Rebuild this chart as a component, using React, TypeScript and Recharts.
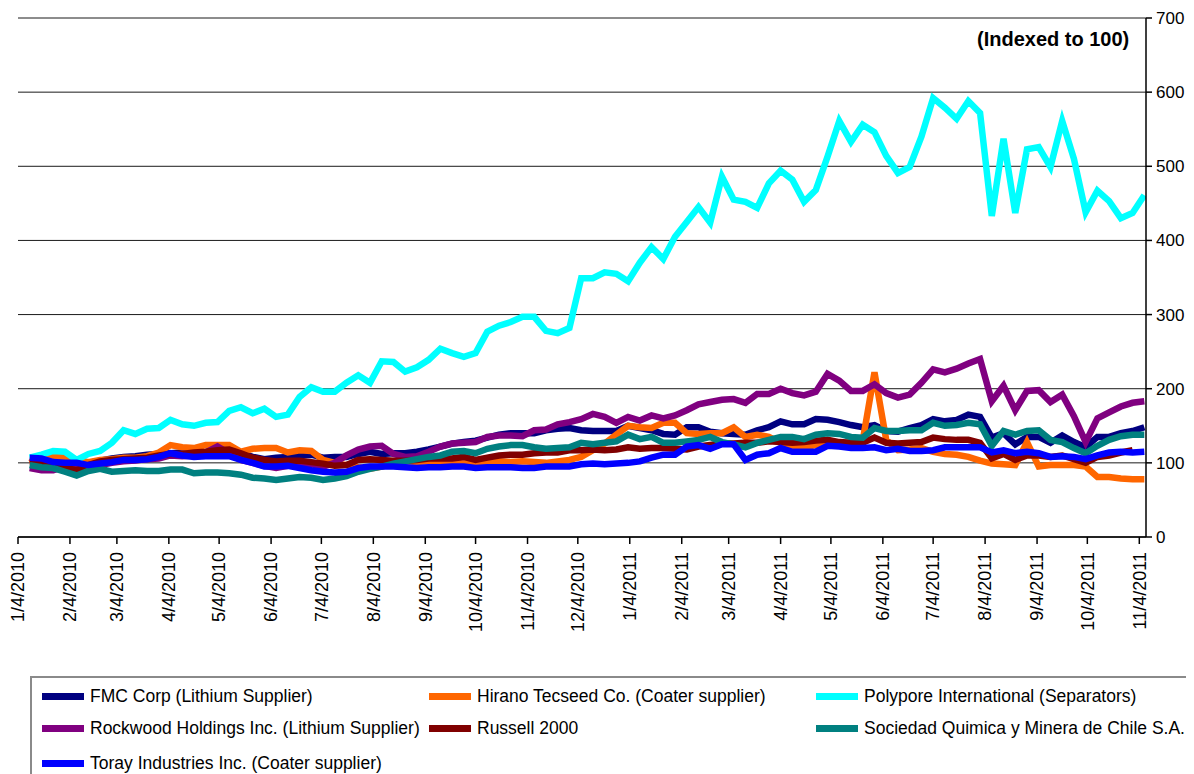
import React from "react";
import { LineChart, Line, XAxis, YAxis, CartesianGrid } from "recharts";

// Weekly observations (Mondays), starting 1/4/2010; index 0 = 1/4/2010
const weekCount = 97;
const weeks = Array.from({ length: weekCount }, (_, i) => i * 7);

const monthTickLabels = [
  "1/4/2010", "2/4/2010", "3/4/2010", "4/4/2010", "5/4/2010", "6/4/2010",
  "7/4/2010", "8/4/2010", "9/4/2010", "10/4/2010", "11/4/2010", "12/4/2010",
  "1/4/2011", "2/4/2011", "3/4/2011", "4/4/2011", "5/4/2011", "6/4/2011",
  "7/4/2011", "8/4/2011", "9/4/2011", "10/4/2011", "11/4/2011",
];
const yTicks = [0, 100, 200, 300, 400, 500, 600, 700];

const fmc = [null,
  105,104,102,100,98,100,103,106,108,109,
  111,112,113,114,113,114,116,117,113,108,
  105,107,108,110,111,107,108,108,112,115,
  112,113,113,115,118,122,126,128,130,134,
  138,140,140,140,144,146,147,144,143,143,
  143,150,147,144,139,138,148,148,142,140,
  139,138,144,148,156,152,152,159,158,155,
  151,148,151,143,142,147,151,159,156,158,
  165,162,134,140,125,135,135,127,137,128,
  121,135,135,140,143,148];

const hirano = [null,
  100,107,108,108,104,101,104,105,107,107,
  109,114,124,121,120,124,124,124,115,119,
  120,120,114,117,116,104,100,97,94,92,
  95,100,102,101,102,101,100,99,101,101,
  102,101,102,101,100,102,104,108,117,126,
  138,150,148,147,154,154,140,139,140,140,
  148,135,138,135,127,123,121,124,125,125,
  128,130,222,131,117,118,120,115,112,111,
  108,103,99,98,97,128,95,97,97,97,
  95,81,81,79,78,78];

const polypore = [null,
  107,111,116,115,104,112,116,127,144,139,
  146,147,158,152,150,154,155,170,175,167,
  173,162,165,189,202,196,196,208,218,208,
  237,236,223,229,239,254,248,243,248,277,
  285,290,297,297,278,275,282,349,349,357,
  355,345,370,391,375,405,425,445,424,486,
  455,452,444,477,494,482,452,468,513,561,
  533,556,546,514,491,499,540,592,579,564,
  588,572,433,537,437,523,526,499,561,510,
  438,467,453,430,437,461];

const rockwood = [null,
  93,90,90,95,96,95,97,100,102,103,
  105,106,110,109,110,114,122,113,104,100,
  96,93,96,97,98,95,100,110,118,122,
  123,112,108,109,115,122,126,127,128,135,
  137,137,136,144,145,152,155,159,166,162,
  154,162,157,164,160,164,171,179,182,185,
  186,181,193,193,200,194,191,196,220,211,
  197,197,206,194,188,192,208,226,222,227,
  234,240,183,204,171,197,198,182,192,163,
  128,160,168,176,181,183];

const russell = [null,
  101,101,98,93,90,97,102,104,105,106,
  107,110,112,112,114,115,117,118,113,107,
  104,102,103,103,101,99,96,97,104,105,
  104,103,103,104,106,106,106,108,104,107,
  110,111,111,113,114,114,117,117,118,117,
  118,121,119,120,120,119,118,122,124,126,
  126,127,127,129,128,127,128,130,131,128,
  127,127,134,127,126,127,128,134,132,131,
  131,127,106,112,104,110,110,108,110,105,
  100,108,110,114,117,null];

const sqm = [null,
  97,94,93,88,83,89,92,88,89,90,
  89,89,91,91,86,87,87,86,84,80,
  79,77,79,81,80,77,79,82,88,92,
  95,99,102,105,108,110,115,116,113,119,
  122,124,124,121,119,120,121,127,125,127,
  129,138,132,135,127,127,129,131,135,128,
  125,121,127,131,135,135,132,138,140,139,
  135,134,147,143,143,144,144,154,150,151,
  154,152,123,143,138,143,144,131,128,120,
  113,123,131,136,138,138];

const toray = [null,
  107,106,101,100,100,97,99,101,104,104,
  105,108,113,110,108,109,109,109,104,100,
  95,95,96,93,90,88,87,88,93,95,
  95,95,94,93,94,94,95,95,93,94,
  94,94,93,93,95,95,95,98,99,98,
  99,100,102,107,111,111,122,124,119,125,
  125,104,111,113,120,115,115,115,123,122,
  120,120,121,117,119,116,116,117,121,121,
  121,121,114,117,113,115,113,108,109,108,
  105,110,114,115,114,115];

const seriesNames = [
  "FMC Corp (Lithium Supplier)",
  "Hirano Tecseed Co. (Coater supplier)",
  "Polypore International (Separators)",
  "Rockwood Holdings Inc. (Lithium Supplier)",
  "Russell 2000",
  "Sociedad Quimica y Minera de Chile S.A.",
  "Toray Industries Inc. (Coater supplier)",
];
const seriesKeys = ["fmc", "hirano", "polypore", "rockwood", "russell", "sqm", "toray"];
const seriesColors = ["#000080", "#FF6600", "#00FFFF", "#800080", "#800000", "#008080", "#0000FF"];
const seriesValues = [fmc, hirano, polypore, rockwood, russell, sqm, toray];

const DAY_MS = 86400000;
const startUTC = Date.UTC(2010, 0, 4);
const labelToDay = (s: string) => {
  const [m, d, y] = s.split("/").map(Number);
  return Math.round((Date.UTC(y, m - 1, d) - startUTC) / DAY_MS);
};
const tickDays = monthTickLabels.map(labelToDay);
const dayToLabel: Record<number, string> = {};
tickDays.forEach((d, i) => (dayToLabel[d] = monthTickLabels[i]));

const data = weeks.map((day, i) => {
  const row: Record<string, number | null> = { day };
  seriesKeys.forEach((k, j) => (row[k] = seriesValues[j][i] as number | null));
  return row;
});

const FONT = '"Liberation Sans", Arial, sans-serif';

const XTick = (props: any) => {
  const { x, y, payload } = props;
  return (
    <g transform={`translate(${x},${y})`}>
      <text
        transform="rotate(-90)"
        textAnchor="end"
        dy="0.35em"
        fontSize={18}
        fontFamily={FONT}
        fill="#000"
      >
        {dayToLabel[payload.value] ?? ""}
      </text>
    </g>
  );
};

const legendCols = [12, 399, 786];
const legendRows = [19, 51, 86];

export default function App() {
  return (
    <div style={{ position: "relative", width: 1200, height: 800, fontFamily: FONT }}>
      <style>{`body{overflow:hidden}`}</style>
      <LineChart
        width={1200}
        height={629}
        data={data}
        margin={{ top: 10, right: 0, left: 10, bottom: 0 }}
      >
        <CartesianGrid horizontal vertical={false} stroke="#1a1a1a" strokeWidth={1} />
        <XAxis
          dataKey="day"
          type="number"
          domain={[0, 673]}
          ticks={tickDays}
          interval={0}
          height={100}
          tickSize={7}
          tickMargin={8}
          tick={<XTick />}
          axisLine={{ stroke: "#000", strokeWidth: 1.5 }}
          tickLine={{ stroke: "#000", strokeWidth: 1.5 }}
          allowDataOverflow
        />
        <YAxis
          orientation="right"
          domain={[0, 700]}
          ticks={yTicks}
          interval={0}
          width={62}
          tickSize={6}
          tickMargin={4}
          axisLine={{ stroke: "#000", strokeWidth: 1.5 }}
          tickLine={{ stroke: "#000", strokeWidth: 1.5 }}
          tick={{ fontSize: 17, fontFamily: FONT, fill: "#000" }}
        />
        {seriesKeys.map((k, j) => (
          <Line
            key={k}
            type="linear"
            dataKey={k}
            name={seriesNames[j]}
            stroke={seriesColors[j]}
            strokeWidth={6.5}
            dot={false}
            activeDot={false}
            isAnimationActive={false}
            connectNulls={false}
          />
        ))}
      </LineChart>
      <div
        style={{
          position: "absolute",
          left: 969,
          top: 21,
          fontSize: 20,
          fontWeight: "bold",
          lineHeight: "20px",
          color: "#000",
          whiteSpace: "nowrap",
        }}
      >
        (Indexed to 100)
      </div>
      <div
        style={{
          position: "absolute",
          left: 22,
          top: 668,
          width: 1200,
          height: 120,
          border: "2px solid #8a8a8a",
          boxSizing: "border-box",
        }}
      >
        {seriesNames.map((name, j) => {
          const col = legendCols[j % 3];
          const row = legendRows[Math.floor(j / 3)];
          return (
            <div key={name}>
              <div
                style={{
                  position: "absolute",
                  left: col - 2,
                  top: row - 4,
                  width: 42,
                  height: 7,
                  background: seriesColors[j],
                }}
              />
              <div
                style={{
                  position: "absolute",
                  left: col + 46,
                  top: row - 11,
                  fontSize: 17.5,
                  lineHeight: "20px",
                  whiteSpace: "nowrap",
                  color: "#000",
                }}
              >
                {name}
              </div>
            </div>
          );
        })}
      </div>
    </div>
  );
}
